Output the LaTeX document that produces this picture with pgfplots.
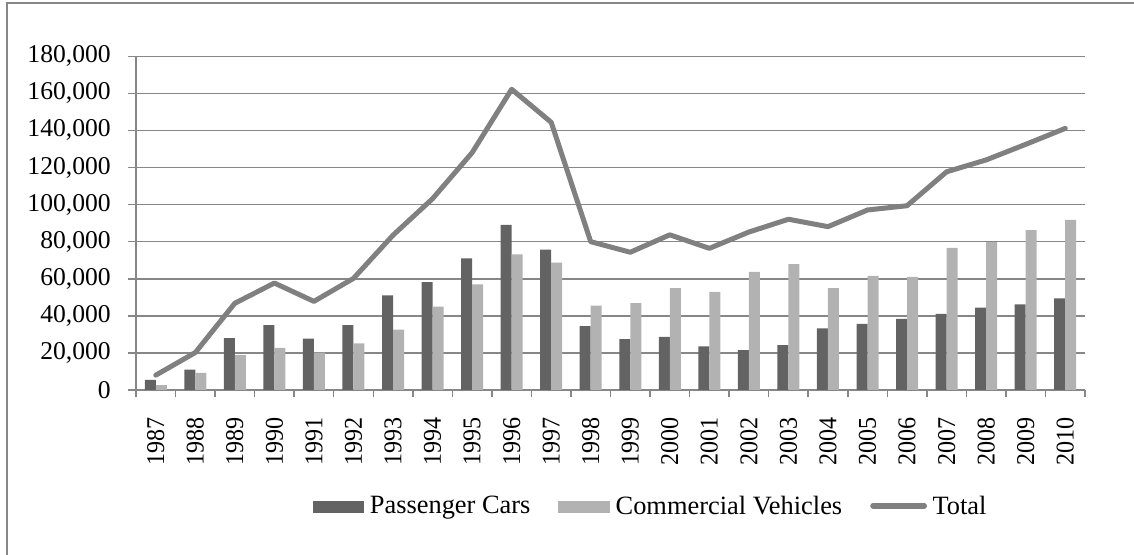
\documentclass[border=0pt]{standalone}
\usepackage{fontspec}
\setmainfont{Liberation Serif}
\usepackage{graphicx}
\usepackage{pgfplots}
\usepackage{pgfplotstable}
\pgfplotsset{compat=1.18}
\definecolor{darkbar}{HTML}{636363}
\definecolor{lightbar}{HTML}{B2B2B2}
\definecolor{linegray}{HTML}{808080}
\definecolor{gridgray}{HTML}{878787}
\newcommand{\yr}[1]{\scalebox{0.94}[1]{#1}}

\pgfplotstableread{
x PC CV T
0 5400 2600 8000
1 11000 9200 20200
2 28000 18800 46800
3 35000 22700 57700
4 27700 20100 47800
5 35000 25200 60200
6 51000 32500 83500
7 58200 45000 103200
8 71000 57000 128000
9 89000 73200 162200
10 75700 68700 144400
11 34500 45500 80000
12 27500 46800 74300
13 28700 55000 83700
14 23500 52900 76400
15 21500 63700 85200
16 24200 67900 92100
17 33200 54900 88100
18 35600 61500 97100
19 38400 61000 99400
20 41100 76600 117700
21 44400 79700 124100
22 46200 86300 132500
23 49400 91700 141100
}\datatable

\begin{document}
\fontsize{12.8}{15}\selectfont
\begin{tikzpicture}
\path[use as bounding box] (-68pt,-82.5pt) rectangle (499pt,195pt);
\draw[gridgray, line width=1pt] (-64.5pt,-120pt) rectangle (540pt,193.5pt);
\begin{axis}[
  at={(0pt,0pt)}, anchor=south west,
  scale only axis, width=474.5pt, height=166.85pt,
  xmin=-0.5, xmax=23.5, ymin=0, ymax=180000,
  axis x line*=bottom, axis y line*=left,
  axis line style={gridgray, line width=0.75pt},
  ytick={0,20000,...,180000},
  scaled y ticks=false,
  yticklabel style={/pgf/number format/fixed, /pgf/number format/1000 sep={,}},
  /pgf/number format/assume math mode=true,
  ymajorgrids, major grid style={gridgray, line width=0.75pt},
  xtick={0,...,23},
  xticklabels={\yr{1987},\yr{1988},\yr{1989},\yr{1990},\yr{1991},\yr{1992},\yr{1993},\yr{1994},\yr{1995},\yr{1996},\yr{1997},\yr{1998},\yr{1999},\yr{2000},\yr{2001},\yr{2002},\yr{2003},\yr{2004},\yr{2005},\yr{2006},\yr{2007},\yr{2008},\yr{2009},\yr{2010}},
  xticklabel style={rotate=90, anchor=east},
  xticklabel shift=5pt,
  yticklabel shift=4pt,
  major x tick style={draw=none},
  minor xtick={-0.5,0.5,...,23.5},
  minor x tick style={gridgray, line width=0.75pt},
  y tick style={gridgray, line width=0.75pt},
  tick align=outside,
  major tick length=4.2pt, minor tick length=3.3pt,
  tick label style={font=\fontsize{12.8}{15}\selectfont},
  legend columns=3,
  legend style={at={(0.1862,-0.3506)}, anchor=west, draw=none, fill=none,
    inner sep=0pt, outer sep=0pt,
    nodes={inner sep=0pt, font=\fontsize{13.2}{15}\selectfont},
    /tikz/every odd column/.append style={column sep=2.8pt},
    /tikz/every even column/.append style={column sep=14pt}},
]
\addplot[ybar, bar width=5.5pt, bar shift=-2.75pt, fill=darkbar, draw=none,
  legend image code/.code={\fill[darkbar] (0pt,-2.9pt) rectangle (25.8pt,2.9pt);}]
  table[x=x, y=PC]{\datatable};
\addlegendentry{Passenger Cars}
\addplot[ybar, bar width=5.5pt, bar shift=2.75pt, fill=lightbar, draw=none,
  legend image code/.code={\fill[lightbar] (0pt,-2.9pt) rectangle (25.8pt,2.9pt);}]
  table[x=x, y=CV]{\datatable};
\addlegendentry{Commercial Vehicles}
\addplot[linegray, line width=2.5pt, line join=round, line cap=round, mark=none,
  legend image code/.code={\draw[linegray, line width=2.8pt, line cap=round] (1.4pt,0.6pt) -- (27pt,0.6pt);}]
  table[x=x, y=T]{\datatable};
\addlegendentry{Total}
\end{axis}
\end{tikzpicture}
\end{document}
